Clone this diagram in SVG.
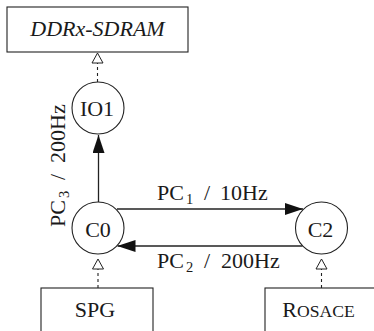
<svg xmlns="http://www.w3.org/2000/svg" width="374" height="331" viewBox="0 0 374 331">
<style>
  .box{fill:#fff;stroke:#222;stroke-width:1.1}
  .node{fill:#fff;stroke:#222;stroke-width:1.1}
  .t{font-family:"Liberation Serif","Times New Roman",serif;font-size:22px;fill:#1a1a1a}
  .sub{font-size:14.5px}
  .edge{fill:none;stroke:#222;stroke-width:1.3}
  .dash{fill:none;stroke:#222;stroke-width:1.1;stroke-dasharray:3 3}
</style>
<defs>
  <marker id="filled" viewBox="0 0 18 12" markerWidth="18" markerHeight="12" refX="18" refY="6" orient="auto" markerUnits="userSpaceOnUse">
    <path d="M0,0 L18,6 L0,12 Z" fill="#111" stroke="none"/>
  </marker>
  <marker id="open" viewBox="-1 -1 12 13" markerWidth="12" markerHeight="13" refX="10" refY="5.5" orient="auto" markerUnits="userSpaceOnUse">
    <path d="M0,0 L10,5.5 L0,11 Z" fill="#fff" stroke="#222" stroke-width="1" stroke-dasharray="none"/>
  </marker>
</defs>

<g id="connectors">
  <line class="dash" x1="97.5" y1="82" x2="97.5" y2="53" marker-end="url(#open)"/>
  <line class="dash" x1="98" y1="288" x2="98" y2="259" marker-end="url(#open)"/>
  <line class="dash" x1="321.5" y1="288" x2="321.5" y2="259" marker-end="url(#open)"/>
  <line class="edge" x1="98.5" y1="202" x2="98.5" y2="135" marker-end="url(#filled)"/>
  <line class="edge" x1="117" y1="209" x2="303" y2="209" marker-end="url(#filled)"/>
  <line class="edge" x1="302.5" y1="246" x2="117.5" y2="246" marker-end="url(#filled)"/>
  <text class="t" x="157" y="200">PC<tspan class="sub" x="186" y="204">1</tspan><tspan x="204" y="200">/</tspan><tspan x="220" y="200">10Hz</tspan></text>
  <text class="t" x="157" y="268">PC<tspan class="sub" x="186" y="272">2</tspan><tspan x="204" y="268">/</tspan><tspan x="221" y="268">200Hz</tspan></text>
  <text class="t" transform="translate(65,227) rotate(-90)" x="0" y="0">PC<tspan class="sub" x="29" y="4">3</tspan><tspan x="47" y="0">/</tspan><tspan x="64" y="0">200Hz</tspan></text>
</g>

<g id="ddr">
  <rect class="box" x="7" y="7" width="181" height="45"/>
  <text class="t" x="97.5" y="36" text-anchor="middle" font-style="italic" font-size="22.8px">DDRx-SDRAM</text>
</g>
<g id="io1">
  <circle class="node" cx="98" cy="108" r="26"/>
  <text class="t" x="97" y="116" text-anchor="middle">IO1</text>
</g>
<g id="c0">
  <circle class="node" cx="98" cy="228" r="26"/>
  <text class="t" x="98" y="236.5" text-anchor="middle">C0</text>
</g>
<g id="c2">
  <circle class="node" cx="321.5" cy="228" r="26"/>
  <text class="t" x="320.5" y="236.5" text-anchor="middle">C2</text>
</g>
<g id="spg">
  <rect class="box" x="41" y="288" width="112" height="50"/>
  <text class="t" x="95" y="317" text-anchor="middle" font-size="23px">SPG</text>
</g>
<g id="rosace">
  <rect class="box" x="265" y="288" width="115" height="50"/>
  <text class="t" x="318.5" y="317" text-anchor="middle">R<tspan font-size="17.6px">OSACE</tspan></text>
</g>
</svg>
